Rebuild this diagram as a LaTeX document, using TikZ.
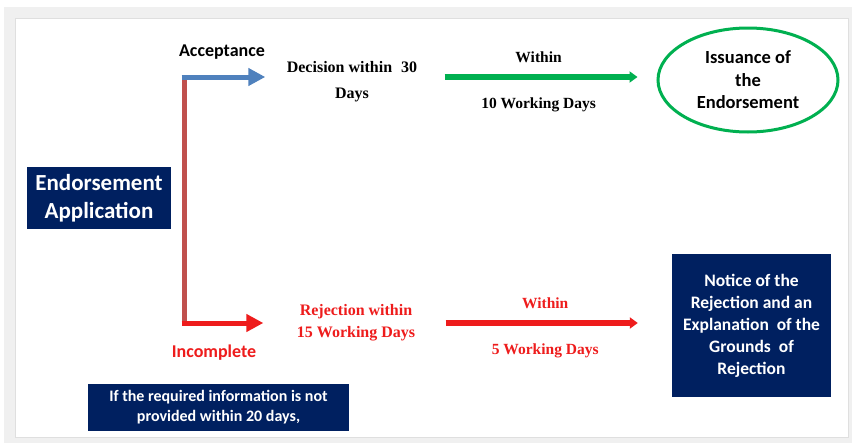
\documentclass[tikz,border=0pt]{standalone}
\usepackage{fontspec}
\setmainfont{Liberation Serif}
\setsansfont{Carlito}
\usepackage{tikz}
\usetikzlibrary{positioning}
\usetikzlibrary{shapes.geometric, arrows.meta}

\definecolor{navy}{RGB}{0,32,96}
\definecolor{accblue}{RGB}{79,129,189}
\definecolor{okgreen}{RGB}{0,176,80}
\definecolor{rejred}{RGB}{238,28,28}
\definecolor{stemred}{RGB}{192,80,77}

\tikzset{
    navybox/.style={rectangle, fill=navy, text=white, align=center, inner sep=0pt},
    sanslabel/.style={font=\sffamily\bfseries\fontsize{18}{22}\selectfont},
    seriflabel/.style={align=center, font=\rmfamily\bfseries\fontsize{16}{26}\selectfont},
    bigarrow/.style={line width=5pt, -{Triangle[length=17pt, width=17pt]}},
    thinarrow/.style={line width=5.5pt, -{Triangle[length=8pt, width=11pt]}}
}

\begin{document}
\begin{tikzpicture}[x=1pt,y=-1pt]
            \useasboundingbox (0,0) rectangle (855,447);
            % frame
            \fill[gray!12] (4,7) rectangle (852,443);
            \draw[gray!25, fill=white] (15,18) rectangle (848,437);

            \node (app) at (99,198) [navybox, minimum width=144pt, minimum height=62pt, font=\sffamily\bfseries\fontsize{23}{28}\selectfont]{Endorsement\\Application};
            \coordinate (top) at (184,77);
            \coordinate (bot) at (184,323);

            \node (acc) at (222,52) [sanslabel, text=black]{Acceptance};
            \node (dec) at (352,82) [seriflabel]{Decision within\hspace{9pt}30\\Days};
            \node (issue) at (748,80) [ellipse, draw=okgreen, line width=3pt, minimum width=180pt, minimum height=104pt, align=center, inner sep=0pt, font=\sffamily\bfseries\fontsize{18.5}{22.5}\selectfont]{Issuance of\\the\\Endorsement};

            \node (inc) at (214,353) [sanslabel, text=rejred]{Incomplete};
            \node (rej) at (356,323) [seriflabel, text=rejred, font=\rmfamily\bfseries\fontsize{16}{22}\selectfont]{Rejection within\\15 Working Days};
            \node (notice) at (751.5,325.5) [navybox, minimum width=159pt, minimum height=143pt, font=\sffamily\bfseries\fontsize{17.5}{22}\selectfont]{Notice of the\\Rejection and an\\Explanation\ \ of the\\Grounds\ \ of\\Rejection};
            \node (info) at (218.5,407.5) [navybox, minimum width=261pt, minimum height=47pt, font=\sffamily\bfseries\fontsize{16}{20}\selectfont]{If the required information is not\\provided within 20 days,};

            \draw[line width=5pt, stemred] (top) -- (bot);
            \draw[bigarrow, accblue, shorten >=18pt] ([xshift=-2.5pt]top) -- (top -| dec.west);
            \draw[bigarrow, rejred, shorten >=30pt] ([xshift=-2.5pt]bot) -- (rej.west);
            \draw[thinarrow, okgreen, shorten <=24pt, shorten >=19pt] (top -| dec.east) -- (top -| issue.west)
                node [pos=0.5, above=8pt, font=\rmfamily\bfseries\fontsize{15.5}{17}\selectfont, text=black]{Within}
                node [pos=0.5, below=15pt, font=\rmfamily\bfseries\fontsize{15.5}{17}\selectfont, text=black]{10 Working Days};
            \draw[thinarrow, rejred, shorten <=27pt, shorten >=34pt] (rej.east) -- (notice.west |- rej.east)
                node [pos=0.5, above=8pt, font=\rmfamily\bfseries\fontsize{15.5}{17}\selectfont, text=rejred]{Within}
                node [pos=0.5, below=15pt, font=\rmfamily\bfseries\fontsize{15.5}{17}\selectfont, text=rejred]{5 Working Days};

        \end{tikzpicture}
\end{document}
